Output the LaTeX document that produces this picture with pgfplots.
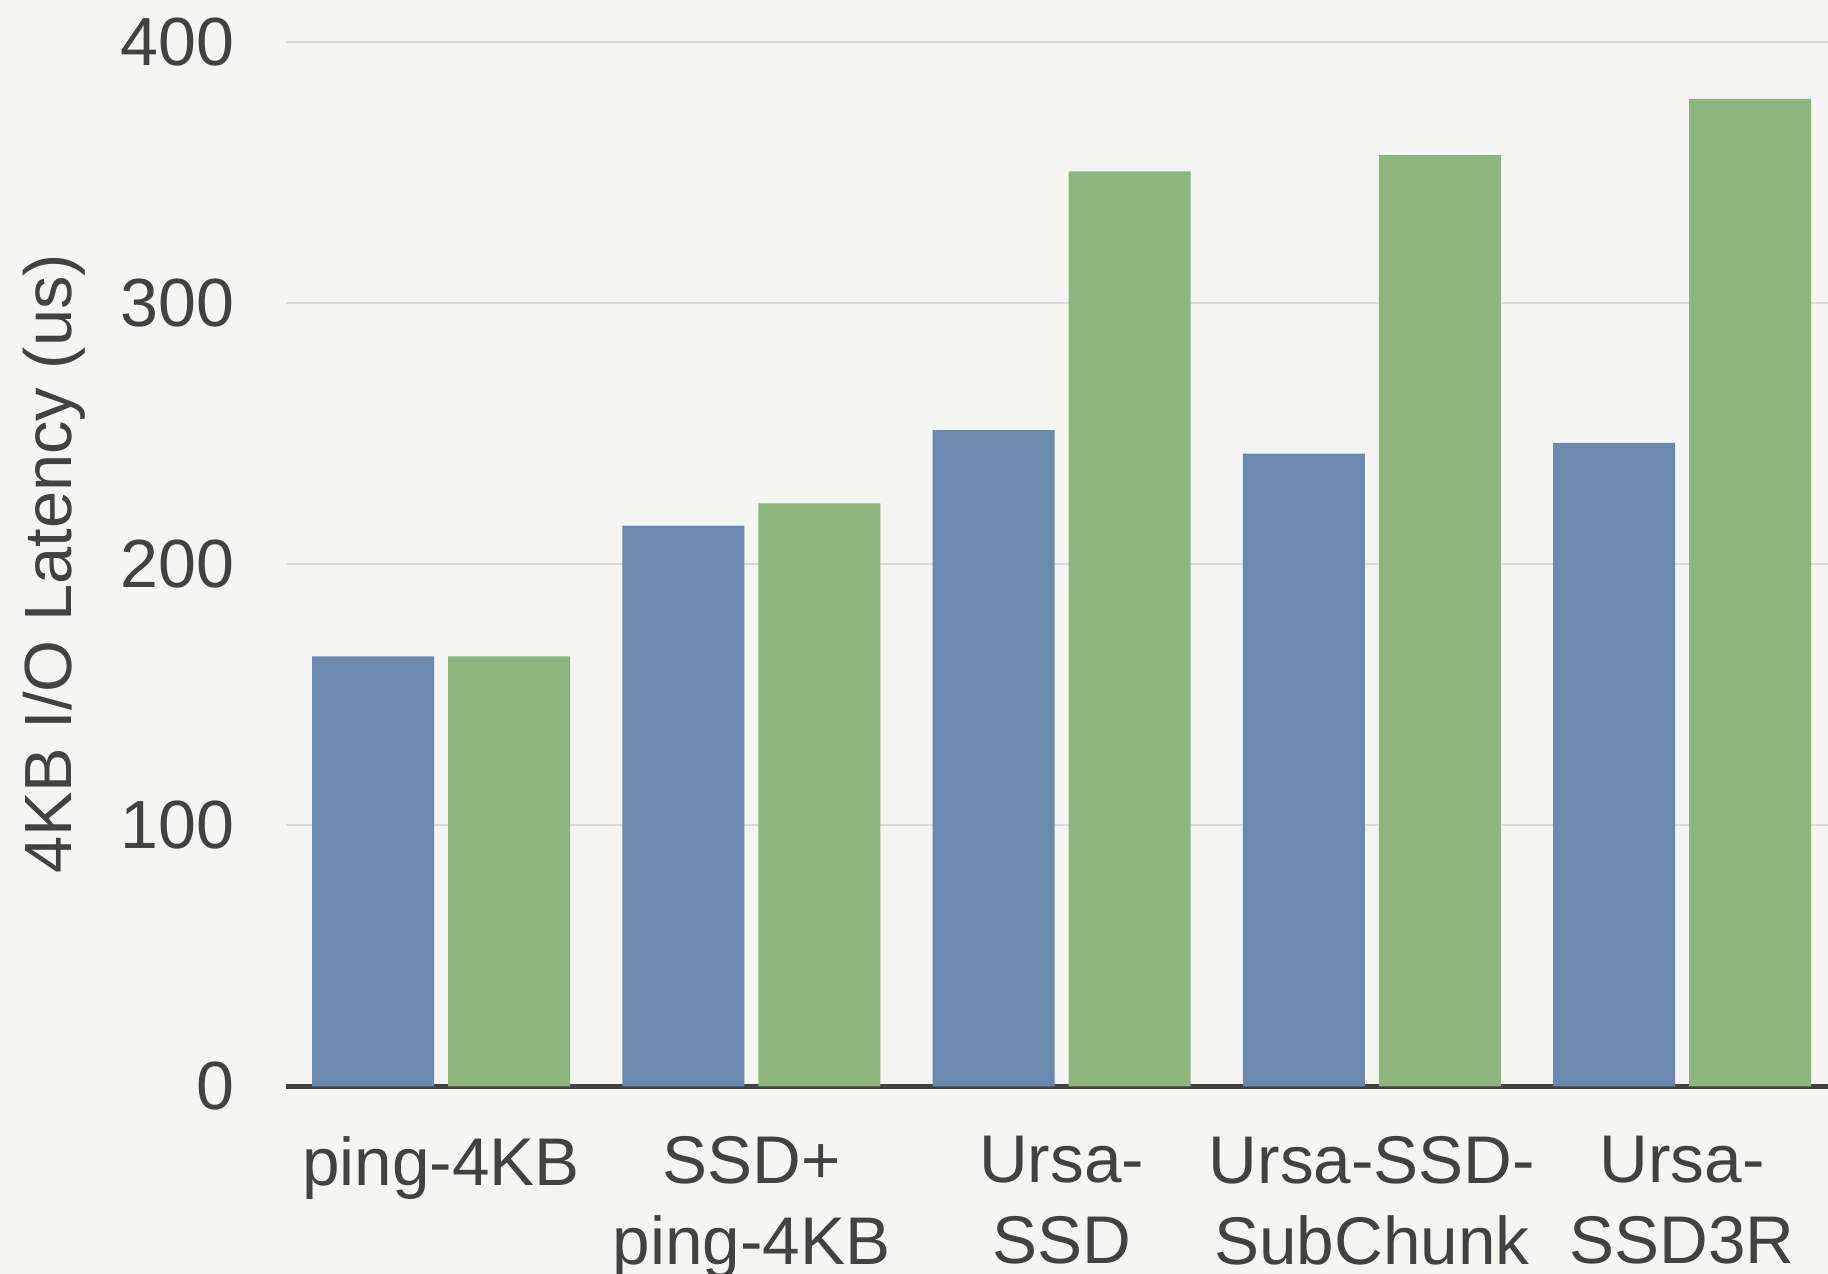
\documentclass[border=0pt]{standalone}
\usepackage{fontspec}
\setmainfont{Liberation Sans}
\usepackage{pgfplots}
\pgfplotsset{compat=1.18}
\definecolor{bgc}{HTML}{F5F5F1}
\definecolor{barblue}{HTML}{6B89AF}
\definecolor{bargreen}{HTML}{8DB67E}
\definecolor{txt}{HTML}{424242}
\definecolor{gridc}{HTML}{DADADA}
\begin{document}
\begin{tikzpicture}
\fill[bgc] (0,0) rectangle (18.28cm,12.74cm);
\begin{axis}[
  at={(2.86cm,1.875cm)}, anchor=south west,
  scale only axis, width=15.42cm, height=10.448cm,
  ybar=0.14cm, bar width=1.22cm,
  xmin=-0.5, xmax=4.47, ymin=0, ymax=400,
  xtick=data,
  xticklabels={ping-4KB,{SSD+\\ping-4KB},{Ursa-\\SSD},{Ursa-SSD-\\SubChunk},{Ursa-\\SSD3R}},
  ytick={0,100,200,300,400},
  major tick length=0pt,
  axis x line*=bottom,
  axis y line*=left,
  x axis line style={-, draw=txt, line width=1.2pt},
  y axis line style={draw=none},
  ymajorgrids,
  grid style={gridc, line width=0.6pt},
  /pgf/number format/assume math mode=true,
  x tick label style={font=\fontsize{19.2}{23}\selectfont, text=txt, align=center, inner sep=0pt, anchor=north, yshift=-0.49cm},
  y tick label style={font=\fontsize{19.4}{23}\selectfont, text=txt, inner sep=0pt, anchor=east, xshift=-0.51cm},
  ylabel={4KB I/O Latency (us)},
  ylabel style={font=\fontsize{19}{23}\selectfont, text=txt, at={(axis description cs:-0.1500,0.5)}, anchor=center},
  clip=false,
]
\addplot[fill=barblue, draw=none] coordinates {(0,164.7) (1,214.7) (2,251.3) (3,242.3) (4,246.4)};
\addplot[fill=bargreen, draw=none] coordinates {(0,164.7) (1,223.2) (2,350.3) (3,356.6) (4,378.1)};
\end{axis}
\pgfresetboundingbox
\useasboundingbox (0,0) rectangle (18.28cm,12.74cm);
\end{tikzpicture}
\end{document}
